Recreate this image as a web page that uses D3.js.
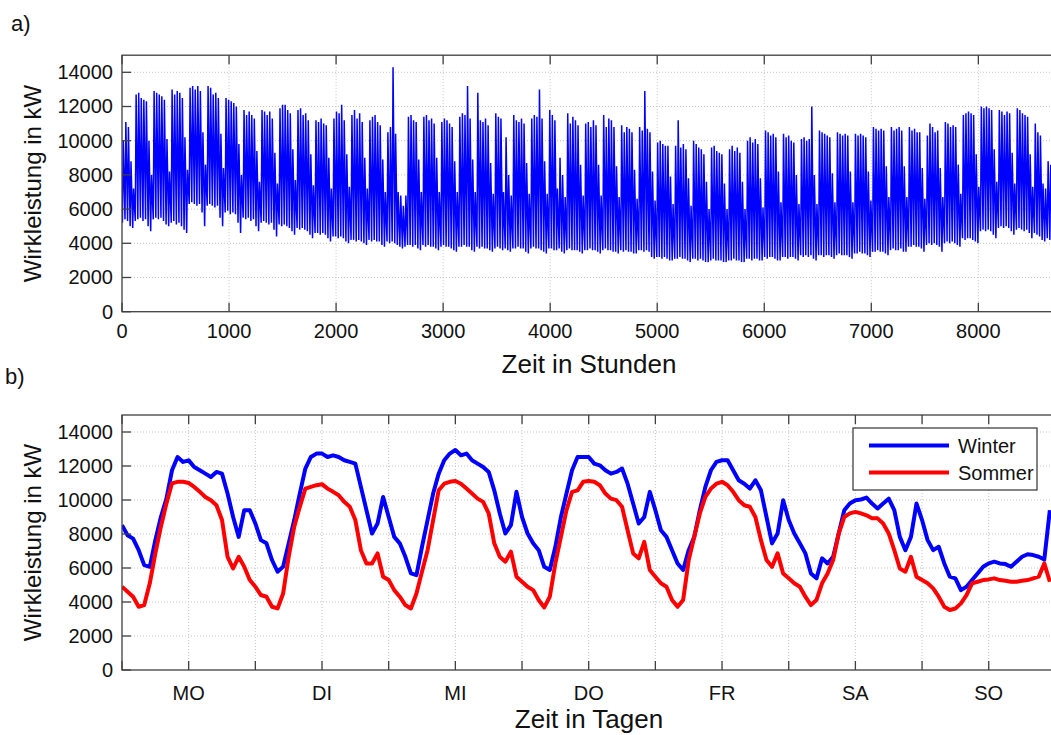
<!DOCTYPE html>
<html lang="de">
  <head>
    <meta charset="UTF-8" />
    <title>Wirkleistung</title>
    <script src="https://cdn.jsdelivr.net/npm/d3@7"></script>
    <style>
      body { margin: 0; background: #fff; }
      svg { display: block; font-family: "Liberation Sans", Arial, sans-serif; }
    </style>
  </head>
  <body>
    <div id="wrapper"></div>
    <script>
      // a) Tageswerte (min / max) eines Jahres, kW – Woche für Woche (Mo..So)
      const dayMax = [
        10000, 11100, 10800, 8800, 7200,
        12700, 12800, 12500, 12400, 12300, 10000, 8000,
        12900, 12800, 12700, 12600, 12400, 10100, 8200,
        13000, 12700, 12900, 12800, 12500, 10200, 8300,
        13100, 13200, 13000, 13200, 12900, 10500, 8600,
        13200, 13100, 12700, 12800, 12500, 10400, 8400,
        12500, 12400, 12300, 12200, 12000, 9800, 8000,
        11800, 11500, 11700, 11500, 11300, 9400, 7600,
        11800, 11700, 11500, 11700, 11300, 9300, 7500,
        11900, 12100, 12100, 11800, 11600, 9500, 7700,
        11800, 11900, 11500, 11600, 11200, 9200, 7400,
        11200, 11100, 11300, 11000, 10900, 9000, 7200,
        11300, 11700, 11600, 12100, 11200, 9200, 7300,
        11500, 11800, 11300, 11600, 11100, 9000, 7200,
        11200, 11400, 11500, 11100, 10900, 8900, 7000,
        10500, 10800, 14300, 10400, 7000, 6800, 6200,
        6800, 11400, 11500, 11200, 11100, 8900, 7000,
        11400, 11500, 11200, 11300, 11000, 9000, 7000,
        11100, 11300, 11200, 11000, 10800, 8800, 7000,
        11400, 11600, 11500, 13200, 11300, 8900, 7000,
        12800, 11200, 11100, 11300, 10900, 8700, 6900,
        11600, 11400, 11300, 7000, 10200, 8000, 6800,
        11500, 11200, 11100, 11300, 11000, 8700, 6900,
        11300, 11500, 11400, 13000, 11300, 8800, 6900,
        11800, 11500, 11200, 7200, 9000, 8000, 6700,
        11600, 11000, 11400, 11200, 10900, 8600, 6800,
        11000, 11100, 10800, 11200, 10900, 8600, 6800,
        11500, 10800, 11300, 11200, 10800, 8500, 6700,
        10900, 10500, 10800, 10700, 10500, 8300, 6600,
        10800, 10600, 12900, 10700, 10500, 8200, 6500,
        9900, 10000, 9800, 9700, 9700, 7900, 6300,
        9700, 11200, 9600, 9800, 9500, 7800, 6200,
        10000, 9800, 9600, 9500, 9200, 7600, 6000,
        9600, 9700, 9400, 9300, 9200, 7500, 6000,
        9500, 9700, 9400, 9600, 9300, 7600, 6000,
        10000, 10200, 9900, 10100, 9800, 7800, 6100,
        10600, 10500, 10300, 10400, 10200, 8200, 6400,
        10400, 10200, 10300, 10000, 9900, 8000, 6300,
        10100, 10200, 10000, 10100, 12000, 8000, 6300,
        10600, 10500, 10400, 10300, 10200, 8100, 6400,
        10500, 10400, 10300, 10400, 10300, 8200, 6400,
        10400, 10300, 10400, 10300, 10200, 8200, 6500,
        10800, 10700, 10600, 10700, 10600, 8500, 6700,
        10800, 10600, 10700, 10800, 10600, 8500, 6700,
        10800, 10600, 10700, 10500, 10500, 8400, 6600,
        10300, 11000, 10800, 10500, 10600, 8400, 6700,
        11100, 11000, 10800, 10900, 10800, 8600, 6900,
        11500, 11600, 11700, 11600, 11500, 9200, 7300,
        12000, 11900, 12000, 11900, 11800, 9500, 7600,
        11800, 11700, 11500, 11700, 11600, 9300, 7500,
        11900, 11800, 11600, 11500, 11400, 9200, 7300,
        11000, 10500, 10300, 7500, 7200, 8800, 8600,
        8500, 8000, 7500
      ]
      const dayMin = [
        5200, 5400, 5300, 5000, 4900,
        5300, 5400, 5500, 5300, 5400, 5000, 4700,
        5400, 5500, 5400, 5500, 5300, 5100, 5000,
        5200, 5300, 5100, 5200, 5000, 4800, 4600,
        6300, 6400, 6300, 6200, 6300, 5800, 5000,
        6200, 6300, 6200, 6100, 6200, 5500, 5000,
        5800, 5900, 5700, 5800, 5700, 5200, 4600,
        5500, 5400, 5500, 5300, 5400, 5000, 4700,
        5200, 5300, 5200, 5100, 5200, 4800, 4400,
        5100, 5000, 5100, 5000, 4900, 4700, 4500,
        4900, 4800, 4900, 4800, 4700, 4500, 4300,
        4600, 4600, 4500, 4600, 4500, 4300, 4100,
        4400, 4400, 4300, 4400, 4300, 4100, 4000,
        4200, 4200, 4100, 4200, 4100, 4000, 3900,
        4200, 4100, 4200, 4100, 4100, 3900, 3800,
        4100, 4000, 4100, 4000, 3900, 3800, 3700,
        3800, 3900, 3900, 3800, 3900, 3700, 3600,
        3900, 3800, 3900, 3800, 3800, 3700, 3600,
        3800, 3900, 3800, 3800, 3700, 3600, 3500,
        3800, 3800, 3900, 3800, 3800, 3600, 3500,
        3800, 3700, 3800, 3700, 3700, 3600, 3500,
        3700, 3800, 3700, 3600, 3700, 3600, 3500,
        3700, 3700, 3800, 3700, 3700, 3500, 3400,
        3700, 3800, 3700, 3700, 3600, 3500, 3400,
        3700, 3700, 3600, 3600, 3700, 3500, 3400,
        3600, 3700, 3600, 3600, 3600, 3500, 3400,
        3600, 3600, 3700, 3600, 3600, 3500, 3400,
        3600, 3700, 3600, 3600, 3500, 3500, 3400,
        3600, 3500, 3600, 3500, 3500, 3400, 3400,
        3600, 3600, 3500, 3600, 3500, 3200, 3100,
        3200, 3200, 3100, 3200, 3100, 3000, 3000,
        3100, 3100, 3200, 3100, 3100, 3000, 2900,
        3100, 3100, 3000, 3100, 3000, 2900, 2900,
        3000, 3100, 3000, 3000, 3000, 2900, 2900,
        3000, 3000, 3100, 3000, 3000, 2900, 2900,
        3100, 3100, 3000, 3100, 3100, 3000, 3000,
        3200, 3100, 3200, 3200, 3100, 3000, 3000,
        3200, 3200, 3100, 3200, 3200, 3100, 3000,
        3300, 3200, 3300, 3200, 3300, 3100, 3000,
        3300, 3300, 3200, 3300, 3300, 3200, 3100,
        3300, 3400, 3300, 3300, 3300, 3200, 3100,
        3400, 3400, 3500, 3400, 3400, 3300, 3200,
        3500, 3500, 3600, 3500, 3500, 3400, 3300,
        3600, 3700, 3600, 3600, 3700, 3500, 3500,
        3800, 3800, 3900, 3800, 3800, 3700, 3500,
        3900, 4000, 3900, 4000, 3900, 3800, 3500,
        4000, 4100, 4000, 4100, 4000, 3900, 3800,
        4300, 4200, 4300, 4300, 4200, 4100, 4000,
        4700, 4800, 4700, 4800, 4700, 4500, 4300,
        4900, 5000, 4900, 5000, 4900, 4700, 4500,
        4800, 4900, 4800, 4700, 4800, 4600, 4300,
        4600, 4500, 4400, 4200, 4100, 4300, 4200,
        4200, 4100, 4000
      ]

      // b) typische Woche, Stundenwerte in kW (Mo 0 h .. So 23 h)
      const winter = [
        8520, 7930, 7730, 7050, 6170, 6070, 7640, 9000, 10080, 11750, 12530, 12240,
        12330, 11940, 11750, 11550, 11350, 11650, 11550, 10380, 9000, 7830, 9400, 9400,
        8620, 7640, 7450, 6470, 5780, 6080, 7450, 8820, 10380, 11850, 12530, 12730,
        12730, 12530, 12630, 12530, 12340, 12240, 12140, 10770, 9400, 8030, 8620, 10180,
        9000, 7830, 7450, 6660, 5680, 5580, 7250, 8820, 10380, 11550, 12340, 12730,
        12940, 12630, 12730, 12340, 12140, 11940, 11650, 10570, 9210, 8030, 8520, 10480,
        9000, 8030, 7450, 7050, 6070, 5880, 7250, 9000, 10380, 11750, 12530, 12530,
        12530, 12140, 12040, 11750, 11550, 11650, 11850, 10960, 9790, 8620, 9000, 10480,
        9400, 8220, 7830, 7050, 6270, 5880, 7050, 7830, 9400, 10770, 11750, 12240,
        12340, 12340, 11750, 11160, 10960, 10670, 11160, 10570, 9000, 7450, 8030, 9990,
        8820, 8030, 7450, 6860, 5680, 5390, 6570, 6270, 6660, 8030, 9400, 9790,
        9990, 10030, 10140, 9790, 9500, 9790, 10080, 9400, 7830, 7050, 7830, 9790,
        8820, 7640, 7050, 7250, 6270, 5490, 5390, 4700, 4900, 5290, 5680, 6070,
        6270, 6370, 6270, 6230, 6070, 6370, 6660, 6810, 6760, 6660, 6500, 9400
      ]
      const sommer = [
        4900, 4610, 4310, 3720, 3820, 5100, 6860, 8430, 9800, 10980, 11070, 11070,
        11000, 10770, 10480, 10180, 9990, 9690, 8820, 6660, 5970, 6660, 6080, 5290,
        4900, 4410, 4310, 3720, 3620, 4500, 6660, 8430, 9600, 10670, 10770, 10870,
        10930, 10670, 10480, 10280, 9890, 9600, 8820, 7050, 6270, 6270, 6860, 5490,
        5290, 4700, 4310, 3820, 3620, 4500, 5800, 7050, 8820, 10570, 10960, 11070,
        11120, 10960, 10670, 10380, 10080, 9890, 9210, 7450, 6660, 6370, 6960, 5490,
        5190, 4900, 4700, 4120, 3680, 4310, 6270, 7830, 9400, 10480, 10570, 11070,
        11120, 11070, 10870, 10380, 10080, 9990, 9600, 8220, 6860, 6570, 7540, 5880,
        5490, 5100, 4900, 4120, 3720, 4120, 6470, 7830, 9210, 10180, 10670, 10960,
        11070, 10870, 10480, 9990, 9690, 9600, 9000, 7640, 6470, 6070, 6860, 5680,
        5390, 5100, 4900, 4310, 3820, 4120, 5100, 5680, 6470, 8030, 9000, 9210,
        9300, 9210, 9100, 8920, 8920, 8620, 8030, 7050, 5970, 5780, 6660, 5490,
        5290, 5100, 4800, 4310, 3720, 3530, 3620, 3920, 4410, 5100, 5190, 5290,
        5330, 5390, 5290, 5250, 5190, 5190, 5250, 5290, 5390, 5490, 6270, 5190
      ]

      const yTicks = [0, 2000, 4000, 6000, 8000, 10000, 12000, 14000]
      const hourTicks = [0, 1000, 2000, 3000, 4000, 5000, 6000, 7000, 8000]
      const dayLabels = ['MO', 'DI', 'MI', 'DO', 'FR', 'SA', 'SO']
      const seriesNames = ['Winter', 'Sommer']
      const seriesColors = ['#0000ff', '#ff0000']

      const W = 1051, H = 735
      const svg = d3.select('#wrapper').append('svg')
        .attr('width', W).attr('height', H)

      const dmsA = { left: 122, top: 55.2, width: 937.7, height: 256.5 }
      const dmsB = { left: 122, top: 415, width: 933.4, height: 255 }

      // Gitter + Clip im MATLAB-Stil
      function drawFrame(g, dms, xScale, xTickVals, yScale, id) {
        g.append('clipPath').attr('id', id)
          .append('rect').attr('width', dms.width).attr('height', dms.height)
        const grid = g.append('g')
          .attr('stroke', '#c4c4c4').attr('stroke-width', 1)
          .attr('stroke-dasharray', '1,2')
        grid.selectAll('.gx').data(xTickVals.filter(v => v > 0)).join('line')
          .attr('x1', d => xScale(d)).attr('x2', d => xScale(d))
          .attr('y1', 0).attr('y2', dms.height)
        grid.selectAll('.gy').data(yTicks.filter(v => v > 0)).join('line')
          .attr('y1', d => yScale(d)).attr('y2', d => yScale(d))
          .attr('x1', 0).attr('x2', dms.width)
      }

      function drawAxes(g, dms, xScale, xTickVals, yScale) {
        const tl = 9
        const axis = g.append('g').attr('stroke', '#404040').attr('stroke-width', 1.3)
        axis.selectAll('.tb').data(xTickVals).join('line')
          .attr('x1', d => xScale(d)).attr('x2', d => xScale(d))
          .attr('y1', dms.height).attr('y2', dms.height - tl)
        axis.selectAll('.tt').data(xTickVals).join('line')
          .attr('x1', d => xScale(d)).attr('x2', d => xScale(d))
          .attr('y1', 0).attr('y2', tl)
        axis.selectAll('.ty').data(yTicks).join('line')
          .attr('y1', d => yScale(d)).attr('y2', d => yScale(d))
          .attr('x1', 0).attr('x2', tl)
        axis.append('rect')
          .attr('width', dms.width).attr('height', dms.height)
          .attr('fill', 'none')

        g.append('g').selectAll('text').data(yTicks).join('text')
          .attr('x', -9).attr('y', d => yScale(d) + 7)
          .attr('text-anchor', 'end').attr('font-size', 20)
          .attr('fill', '#111').text(d => d)
      }

      // ---------- a) Jahresgang ----------
      const gA = svg.append('g').attr('transform', `translate(${dmsA.left},${dmsA.top})`)
      const xA = d3.scaleLinear().domain([0, 8760]).range([0, dmsA.width])
      const yA = d3.scaleLinear().domain([0, 15000]).range([dmsA.height, 0])
      drawFrame(gA, dmsA, xA, hourTicks, yA, 'clipA')

      const yearPts = []
      dayMax.forEach((mx, d) => {
        yearPts.push([d * 24 + 4, dayMin[d]])
        yearPts.push([d * 24 + 12, mx])
      })
      gA.append('path')
        .attr('clip-path', 'url(#clipA)')
        .attr('d', d3.line().x(p => xA(p[0])).y(p => yA(p[1]))(yearPts))
        .attr('fill', 'none').attr('stroke', '#0000ff').attr('stroke-width', 1.5)

      drawAxes(gA, dmsA, xA, hourTicks, yA)
      gA.append('g').selectAll('text').data(hourTicks).join('text')
        .attr('x', d => xA(d)).attr('y', dmsA.height + 26)
        .attr('text-anchor', 'middle').attr('font-size', 20)
        .attr('fill', '#111').text(d => d)

      // ---------- b) typische Woche ----------
      const gB = svg.append('g').attr('transform', `translate(${dmsB.left},${dmsB.top})`)
      const xB = d3.scaleLinear().domain([0, 168]).range([0, dmsB.width])
      const yB = d3.scaleLinear().domain([0, 15000]).range([dmsB.height, 0])
      const halfDays = d3.range(0, 169, 12)
      drawFrame(gB, dmsB, xB, halfDays, yB, 'clipB')

      const weekLine = d3.line().x((v, i) => xB(i)).y(v => yB(v))
      ;[winter, sommer].forEach((s, i) => {
        gB.append('path')
          .attr('clip-path', 'url(#clipB)')
          .attr('d', weekLine(s))
          .attr('fill', 'none').attr('stroke', seriesColors[i])
          .attr('stroke-width', 4).attr('stroke-linejoin', 'round')
      })

      drawAxes(gB, dmsB, xB, halfDays, yB)
      gB.append('g').selectAll('text').data(dayLabels).join('text')
        .attr('x', (d, i) => xB(i * 24 + 12)).attr('y', dmsB.height + 30)
        .attr('text-anchor', 'middle').attr('font-size', 20)
        .attr('fill', '#111').text(d => d)

      // Legende
      const lg = gB.append('g').attr('transform', `translate(${731},${13})`)
      lg.append('rect').attr('width', 184).attr('height', 62)
        .attr('fill', '#fff').attr('stroke', '#333').attr('stroke-width', 1.2)
      seriesNames.forEach((n, i) => {
        lg.append('line').attr('x1', 16).attr('x2', 96)
          .attr('y1', 17.5 + i * 27).attr('y2', 17.5 + i * 27)
          .attr('stroke', seriesColors[i]).attr('stroke-width', 4)
        lg.append('text').attr('x', 105).attr('y', 25 + i * 27)
          .attr('font-size', 20).attr('fill', '#111').text(n)
      })

      // Beschriftungen
      const labels = [
        { t: 'a)', x: 11, y: 31, s: 22, a: 'start' },
        { t: 'b)', x: 5, y: 384, s: 22, a: 'start' },
        { t: 'Zeit in Stunden', x: 589, y: 373, s: 26, a: 'middle' },
        { t: 'Zeit in Tagen', x: 589, y: 728, s: 26, a: 'middle' }
      ]
      svg.selectAll('.lab').data(labels).join('text')
        .attr('x', d => d.x).attr('y', d => d.y)
        .attr('font-size', d => d.s).attr('text-anchor', d => d.a)
        .attr('fill', '#111').text(d => d.t)
      ;[dmsA, dmsB].forEach(dms => {
        svg.append('text')
          .attr('transform', `translate(41,${dms.top + dms.height / 2}) rotate(-90)`)
          .attr('text-anchor', 'middle').attr('font-size', 24)
          .attr('fill', '#111').text('Wirkleistung in kW')
      })
    </script>
  </body>
</html>
